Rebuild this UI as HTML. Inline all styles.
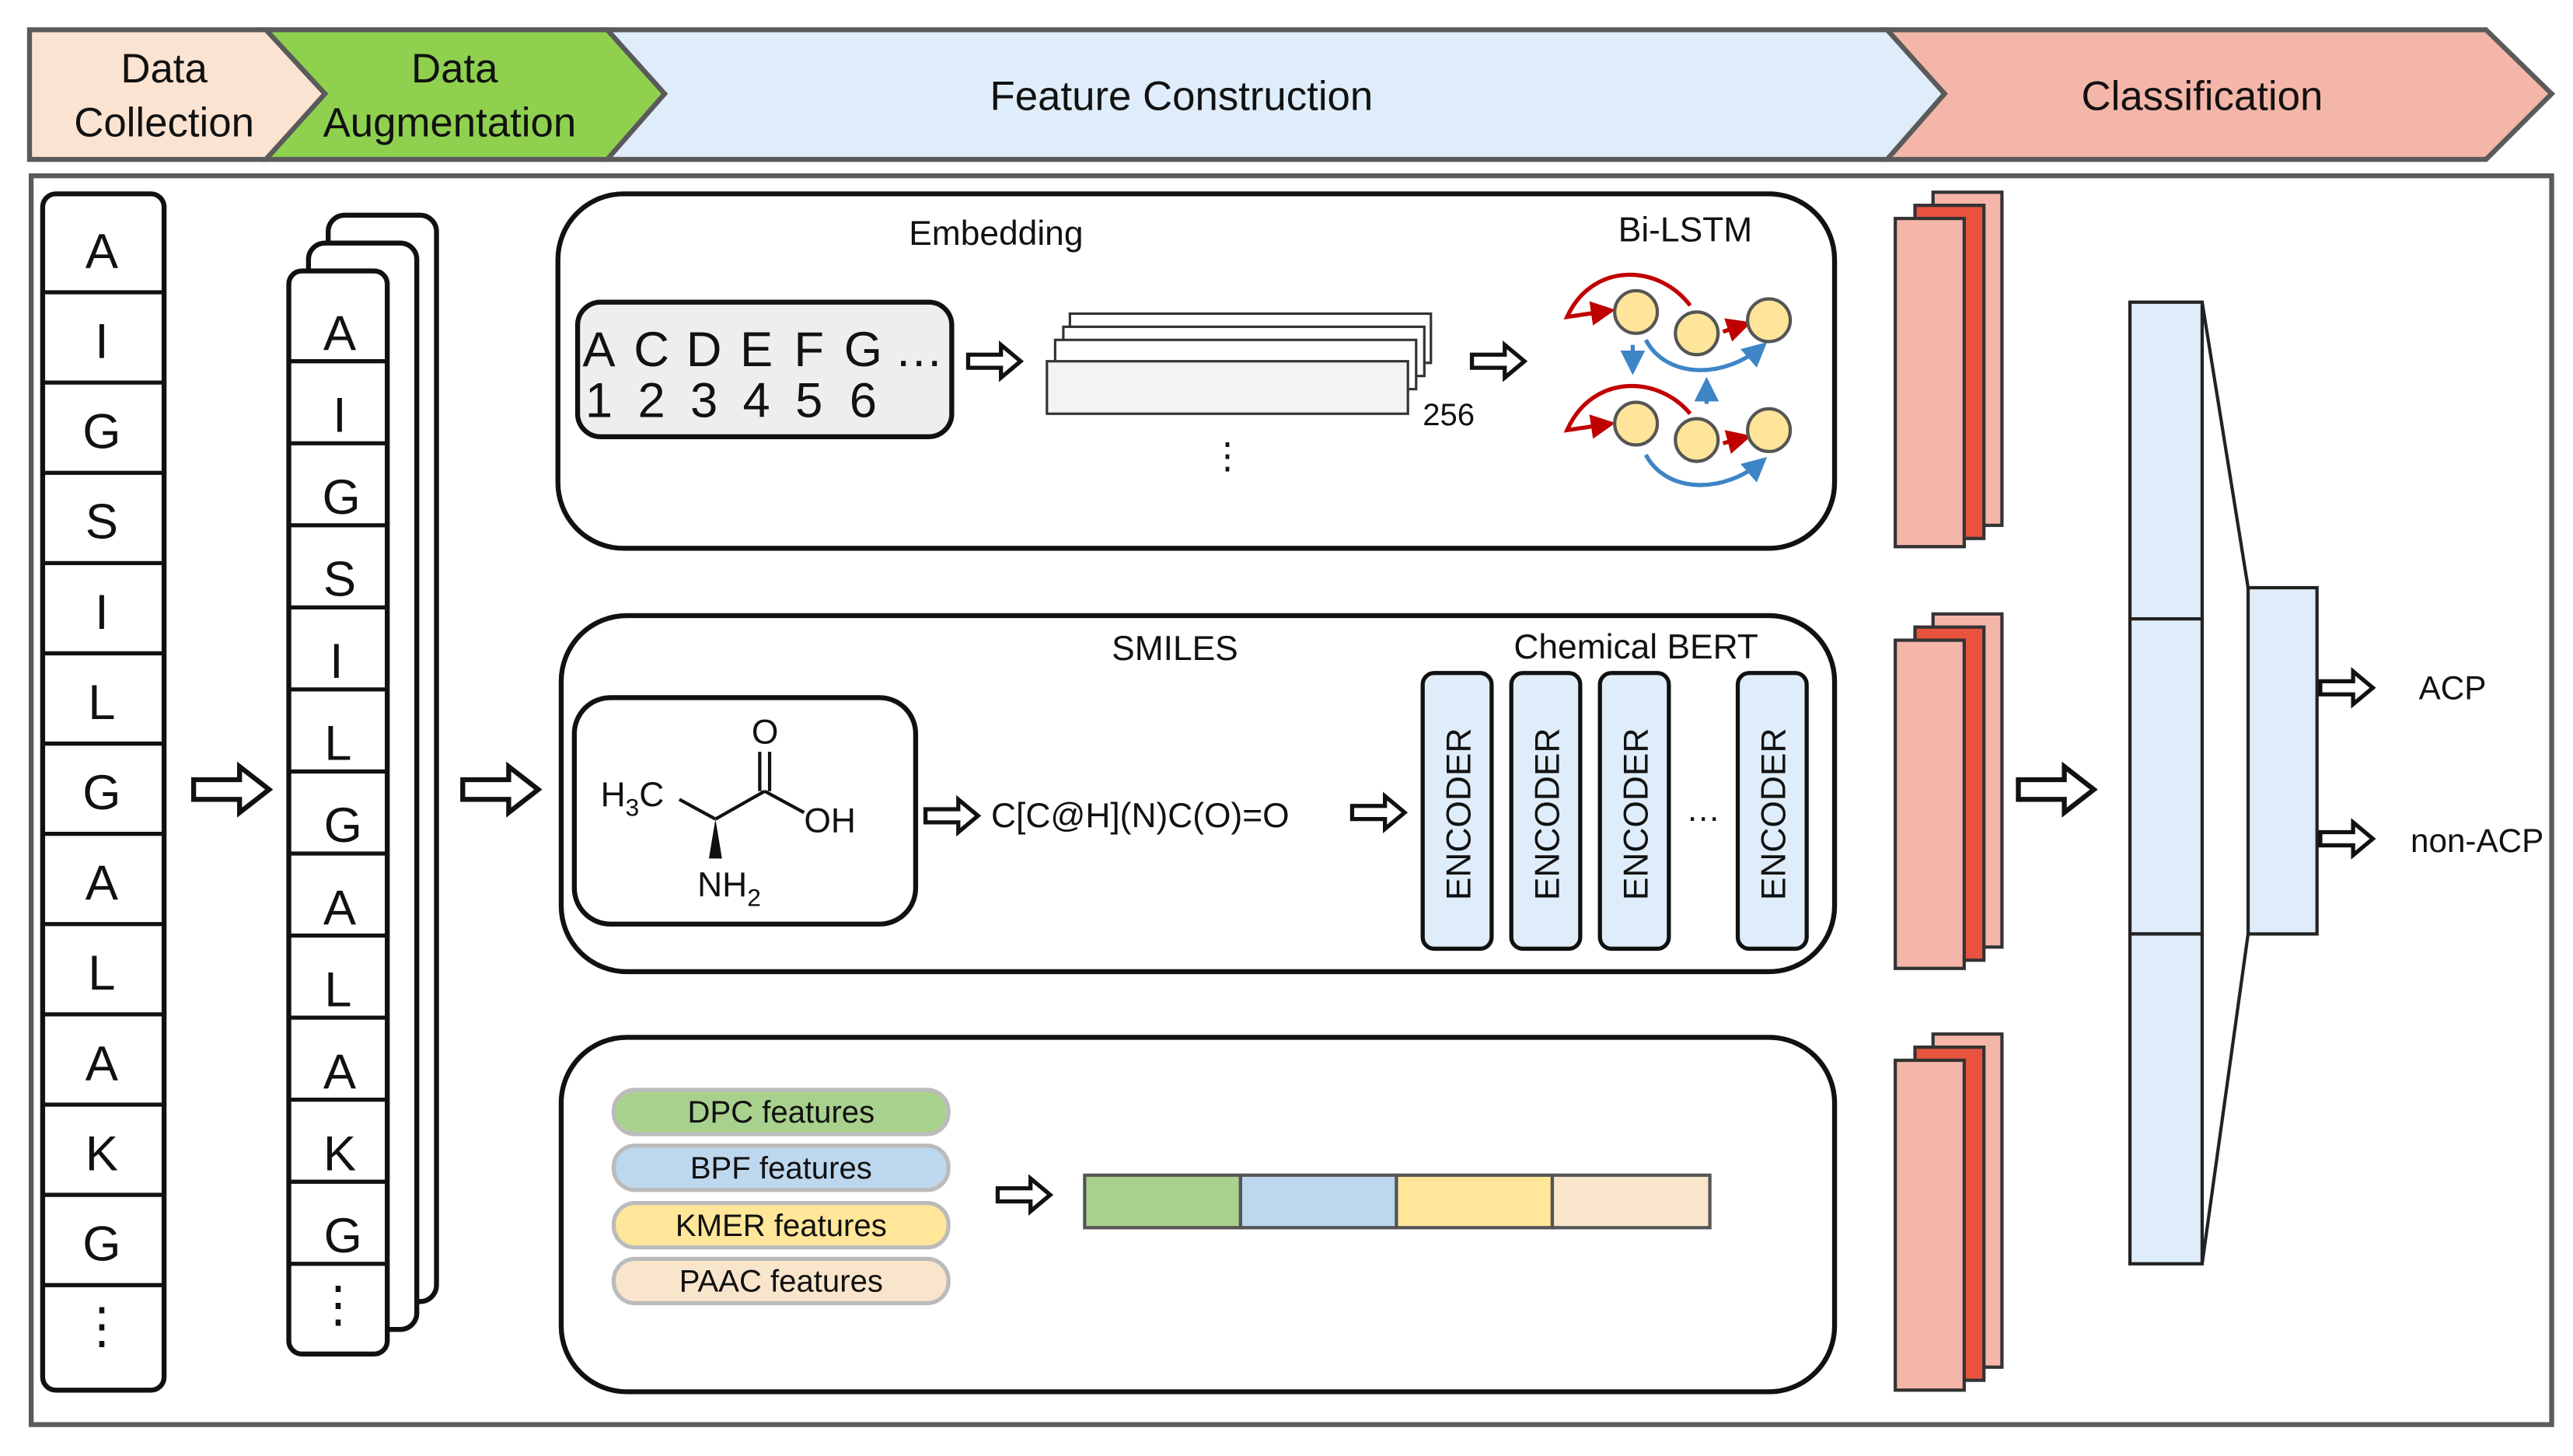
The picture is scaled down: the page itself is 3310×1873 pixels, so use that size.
<!DOCTYPE html>
<html><head><meta charset="utf-8"><style>
html,body{margin:0;padding:0;background:#fff;}
svg{display:block;}
text{font-family:"Liberation Sans",Arial,sans-serif;fill:#111;}
</style></head><body>
<svg width="3310" height="1873" viewBox="0 0 1568 887" xmlns="http://www.w3.org/2000/svg">
<defs>
<marker id="ar" markerWidth="6" markerHeight="6" refX="5" refY="3" orient="auto" markerUnits="strokeWidth"><path d="M0,0 L6,3 L0,6 z" fill="#c00000"/></marker>
<marker id="ab" markerWidth="6" markerHeight="6" refX="5" refY="3" orient="auto" markerUnits="strokeWidth"><path d="M0,0 L6,3 L0,6 z" fill="#3d85c6"/></marker>
<g id="harrow"><path d="M0,-6 L28,-6 L28,-14 L46,0 L28,14 L28,6 L0,6 z" fill="#fff" stroke="#111" stroke-width="3" stroke-linejoin="miter"/></g>
<g id="sarrow"><path d="M0,-4 L20,-4 L20,-10 L32,0 L20,10 L20,4 L0,4 z" fill="#fff" stroke="#111" stroke-width="2.5"/></g>
</defs>
<g stroke="#5a5a5a" stroke-width="3">
<path d="M1150,18 L1515,18 L1555,57 L1515,97 L1150,97 L1185,57 z" fill="#f4b6a8"/>
<path d="M370,18 L1150,18 L1185,57 L1150,97 L370,97 L405,57 z" fill="#deedf9"/>
<path d="M162,18 L370,18 L405,57 L370,97 L162,97 L198,57 z" fill="#8fd14f"/>
<path d="M18,18 L162,18 L198,57 L162,97 L18,97 z" fill="#fbe3d2"/>
</g>
<g font-size="25" text-anchor="middle">
<text x="100" y="50">Data</text>
<text x="100" y="83">Collection</text>
<text x="277" y="50">Data</text>
<text x="274" y="83">Augmentation</text>
<text x="720" y="67">Feature Construction</text>
<text x="1342" y="67">Classification</text>
</g>
<rect x="19" y="107" width="1536" height="761" fill="#fff" stroke="#5a5a5a" stroke-width="3"/>
<rect x="26" y="118" width="74" height="729" rx="8" fill="#fff" stroke="#111" stroke-width="3"/>
<g stroke="#111" stroke-width="2.5">
<line x1="26" y1="178" x2="100" y2="178"/><line x1="26" y1="233" x2="100" y2="233"/><line x1="26" y1="288" x2="100" y2="288"/><line x1="26" y1="343" x2="100" y2="343"/><line x1="26" y1="398" x2="100" y2="398"/><line x1="26" y1="453" x2="100" y2="453"/><line x1="26" y1="508" x2="100" y2="508"/><line x1="26" y1="563" x2="100" y2="563"/><line x1="26" y1="618" x2="100" y2="618"/><line x1="26" y1="673" x2="100" y2="673"/><line x1="26" y1="728" x2="100" y2="728"/><line x1="26" y1="783" x2="100" y2="783"/>
</g>
<g font-size="30" text-anchor="middle">
<text x="62" y="163">A</text><text x="62" y="218">I</text><text x="62" y="273">G</text><text x="62" y="328">S</text><text x="62" y="383">I</text><text x="62" y="438">L</text><text x="62" y="493">G</text><text x="62" y="548">A</text><text x="62" y="603">L</text><text x="62" y="658">A</text><text x="62" y="713">K</text><text x="62" y="768">G</text><text x="62" y="818">⋮</text>
</g>
<rect x="200" y="131" width="66" height="662" rx="10" fill="#fff" stroke="#111" stroke-width="3"/>
<rect x="188" y="148" width="66" height="662" rx="10" fill="#fff" stroke="#111" stroke-width="3"/>
<rect x="176" y="165" width="60" height="660" rx="8" fill="#fff" stroke="#111" stroke-width="3"/>
<g stroke="#111" stroke-width="2.5">
<line x1="176" y1="220" x2="236" y2="220"/><line x1="176" y1="270" x2="236" y2="270"/><line x1="176" y1="320" x2="236" y2="320"/><line x1="176" y1="370" x2="236" y2="370"/><line x1="176" y1="420" x2="236" y2="420"/><line x1="176" y1="470" x2="236" y2="470"/><line x1="176" y1="520" x2="236" y2="520"/><line x1="176" y1="570" x2="236" y2="570"/><line x1="176" y1="620" x2="236" y2="620"/><line x1="176" y1="670" x2="236" y2="670"/><line x1="176" y1="720" x2="236" y2="720"/><line x1="176" y1="770" x2="236" y2="770"/>
</g>
<g font-size="30" text-anchor="middle">
<text x="207" y="213">A</text><text x="207" y="263">I</text><text x="208" y="313">G</text><text x="207" y="363">S</text><text x="205" y="413">I</text><text x="206" y="463">L</text><text x="209" y="513">G</text><text x="207" y="563">A</text><text x="206" y="613">L</text><text x="207" y="663">A</text><text x="207" y="713">K</text><text x="209" y="763">G</text><text x="206" y="805">⋮</text>
</g>
<use href="#harrow" x="118" y="481"/>
<use href="#harrow" x="282" y="481"/>
<use href="#harrow" x="1230" y="481"/>
<rect x="340" y="118" width="778" height="216" rx="40" fill="#fff" stroke="#111" stroke-width="3"/>
<rect x="342" y="375" width="776" height="217" rx="40" fill="#fff" stroke="#111" stroke-width="3"/>
<rect x="342" y="632" width="776" height="216" rx="40" fill="#fff" stroke="#111" stroke-width="3"/>
<text x="607" y="149" font-size="21" text-anchor="middle">Embedding</text>
<text x="1027" y="147" font-size="21" text-anchor="middle">Bi-LSTM</text>
<rect x="352" y="184" width="228" height="82" rx="14" fill="#eeeeee" stroke="#111" stroke-width="3"/>
<g font-size="30" text-anchor="middle">
<text x="365" y="223">A</text><text x="397" y="223">C</text><text x="429" y="223">D</text><text x="461" y="223">E</text><text x="493" y="223">F</text><text x="526" y="223">G</text><text x="560" y="223">…</text>
<text x="365" y="254">1</text><text x="397" y="254">2</text><text x="429" y="254">3</text><text x="461" y="254">4</text><text x="493" y="254">5</text><text x="526" y="254">6</text>
</g>
<use href="#sarrow" x="590" y="220"/>
<g stroke="#333" stroke-width="1.5" fill="#fff">
<rect x="652" y="191" width="220" height="30"/>
<rect x="648" y="199" width="220" height="30"/>
<rect x="643" y="207" width="220" height="30"/>
<rect x="638" y="220" width="220" height="32" fill="#f3f3f3"/>
</g>
<text x="867" y="259" font-size="19">256</text>
<text x="748" y="285" font-size="22" text-anchor="middle">⋮</text>
<use href="#sarrow" x="897" y="220"/>
<g stroke-width="2.5" fill="none">
<path d="M1030,186 C1010,160 970,160 955,193 L982,189" stroke="#c00000" marker-end="url(#ar)"/>
<path d="M1050,202 L1065,197" stroke="#c00000" marker-end="url(#ar)"/>
<path d="M1003,207 C1015,230 1050,232 1075,210" stroke="#3d85c6" marker-end="url(#ab)"/>
<path d="M995,210 L995,226" stroke="#3d85c6" marker-end="url(#ab)"/>
<path d="M1030,252 C1010,228 970,228 955,262 L982,258" stroke="#c00000" marker-end="url(#ar)"/>
<path d="M1050,270 L1065,266" stroke="#c00000" marker-end="url(#ar)"/>
<path d="M1003,277 C1015,300 1050,302 1075,280" stroke="#3d85c6" marker-end="url(#ab)"/>
<path d="M1040,246 L1040,232" stroke="#3d85c6" marker-end="url(#ab)"/>
</g>
<g fill="#ffe599" stroke="#555" stroke-width="2">
<circle cx="997" cy="190" r="13"/><circle cx="1034" cy="203" r="13"/><circle cx="1078" cy="195" r="13"/>
<circle cx="997" cy="258" r="13"/><circle cx="1034" cy="268" r="13"/><circle cx="1078" cy="262" r="13"/>
</g>
<text x="716" y="402" font-size="21" text-anchor="middle">SMILES</text>
<text x="997" y="401" font-size="21" text-anchor="middle">Chemical BERT</text>
<rect x="350" y="425" width="208" height="138" rx="22" fill="#fff" stroke="#111" stroke-width="3"/>
<g stroke="#111" stroke-width="2" fill="none">
<line x1="414" y1="487" x2="436" y2="499"/><line x1="436" y1="499" x2="466" y2="482"/><line x1="466" y1="482" x2="490" y2="495"/>
<line x1="463" y1="482" x2="463" y2="458"/><line x1="469" y1="482" x2="469" y2="458"/>
</g>
<path d="M436,499 L432,523 L440,523 z" fill="#111"/>
<text x="366" y="491" font-size="21">H<tspan font-size="15" dy="6">3</tspan><tspan dy="-6">C</tspan></text>
<text x="458" y="453" font-size="21">O</text>
<text x="490" y="507" font-size="21">OH</text>
<text x="425" y="546" font-size="21">NH<tspan font-size="15" dy="6">2</tspan></text>
<use href="#sarrow" x="564" y="497"/>
<text x="604" y="504" font-size="21">C[C@H](N)C(O)=O</text>
<use href="#sarrow" x="824" y="495"/>
<g fill="#deedf9" stroke="#111" stroke-width="2.5">
<rect x="867" y="410" width="42" height="168" rx="7"/>
<rect x="921" y="410" width="42" height="168" rx="7"/>
<rect x="975" y="410" width="42" height="168" rx="7"/>
<rect x="1059" y="410" width="42" height="168" rx="7"/>
</g>
<g font-size="21" text-anchor="middle">
<text transform="translate(896,496) rotate(-90)">ENCODER</text>
<text transform="translate(950,496) rotate(-90)">ENCODER</text>
<text transform="translate(1004,496) rotate(-90)">ENCODER</text>
<text transform="translate(1088,496) rotate(-90)">ENCODER</text>
</g>
<text x="1038" y="500" font-size="21" text-anchor="middle">…</text>
<g stroke="#bbb" stroke-width="2.5">
<rect x="374" y="664" width="204" height="27" rx="13" fill="#a9d18e"/>
<rect x="374" y="698" width="204" height="27" rx="13" fill="#bdd7ee"/>
<rect x="374" y="733" width="204" height="27" rx="13" fill="#ffe699"/>
<rect x="374" y="767" width="204" height="27" rx="13" fill="#f8e5cc"/>
</g>
<g font-size="19" text-anchor="middle">
<text x="476" y="684">DPC features</text>
<text x="476" y="718">BPF features</text>
<text x="476" y="753">KMER features</text>
<text x="476" y="787">PAAC features</text>
</g>
<use href="#sarrow" x="608" y="728"/>
<g stroke="#555" stroke-width="2">
<rect x="661" y="716" width="95" height="32" fill="#a9d18e"/>
<rect x="756" y="716" width="95" height="32" fill="#bdd7ee"/>
<rect x="851" y="716" width="95" height="32" fill="#ffe699"/>
<rect x="946" y="716" width="96" height="32" fill="#f8e5cc"/>
</g>
<g stroke="#333" stroke-width="2">
<g><rect x="1178" y="117" width="42" height="203" fill="#f4b6a8"/><rect x="1167" y="125" width="42" height="203" fill="#e8533f"/><rect x="1155" y="133" width="42" height="200" fill="#f4b6a8"/></g>
<g><rect x="1178" y="374" width="42" height="203" fill="#f4b6a8"/><rect x="1167" y="382" width="42" height="203" fill="#e8533f"/><rect x="1155" y="390" width="42" height="200" fill="#f4b6a8"/></g>
<g><rect x="1178" y="630" width="42" height="203" fill="#f4b6a8"/><rect x="1167" y="638" width="42" height="203" fill="#e8533f"/><rect x="1155" y="646" width="42" height="201" fill="#f4b6a8"/></g>
</g>
<g stroke="#222" stroke-width="2" fill="#deedf9">
<rect x="1298" y="184" width="44" height="193"/>
<rect x="1298" y="377" width="44" height="192"/>
<rect x="1298" y="569" width="44" height="201"/>
<rect x="1370" y="358" width="42" height="211"/>
<line x1="1342" y1="184" x2="1370" y2="358"/>
<line x1="1342" y1="770" x2="1370" y2="569"/>
</g>
<use href="#sarrow" x="1414" y="419"/>
<use href="#sarrow" x="1414" y="511"/>
<text x="1474" y="426" font-size="20">ACP</text>
<text x="1469" y="519" font-size="20">non-ACP</text>
</svg>
</body></html>
